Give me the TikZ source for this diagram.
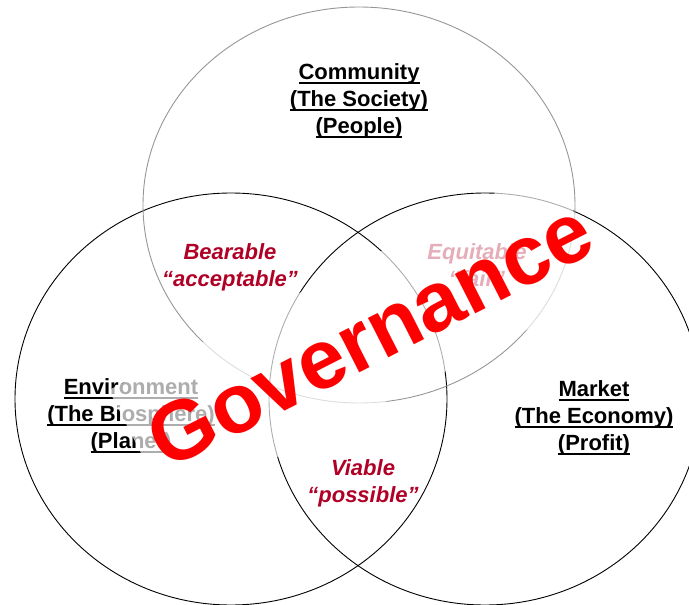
\documentclass[tikz,border=0pt]{standalone}
\usepackage{fontspec}
\setmainfont{Liberation Sans}
\definecolor{darkred}{RGB}{176,0,38}
\definecolor{ringgray}{RGB}{150,150,150}
\newcommand\undl[1]{\setbox0\hbox{#1}\rlap{\rule[-4.5pt]{\wd0}{1.5pt}}\box0}
\begin{document}
\begin{tikzpicture}[x=1pt,y=-1pt,
  ring/.style={line width=0.9pt, draw=black},
  topring/.style={line width=0.9pt, draw=ringgray},
  pillar/.style={font=\fontsize{22}{27}\selectfont\bfseries, align=center, inner sep=0pt},
  overlap/.style={font=\fontsize{22}{27}\selectfont\bfseries\itshape, align=center, inner sep=0pt, text=darkred},
  veil/.style={rectangle, inner sep=0pt, minimum width=495pt, minimum height=136pt, fill=white, fill opacity=0.68, draw=none},
  banner/.style={font=\fontsize{84}{100}\selectfont\bfseries, text=red, inner sep=0pt}]
\useasboundingbox (0,0) rectangle (689,605);
% circles
\draw[ring] (231,399) ellipse [x radius=216pt, y radius=206pt];
\draw[ring] (485,399) ellipse [x radius=216pt, y radius=206pt];
\draw[topring] (359,205) ellipse [x radius=216pt, y radius=198pt];
% pillar labels
\node[pillar] (community) at (359,100.6) {\strut\undl{Community}\\\strut\undl{(The Society)}\\\strut\undl{(People)}};
\node[pillar] (environment) at (131,415.6) {\strut\undl{Environment}\\\strut\undl{(The Biosphere)}\\\strut\undl{(Planet)}};
\node[pillar] (market) at (594,417.6) {\strut\undl{Market}\\\strut\undl{(The Economy)}\\\strut\undl{(Profit)}};
% overlap labels
\node[overlap] (bearable) at (230,267.6) {\strut Bearable\\\strut “acceptable”};
\node[overlap] (equitable) at (477,267.6) {\strut Equitable\\\strut “fair”};
\node[overlap] (viable) at (363,483.6) {\strut Viable\\\strut “possible”};
% governance veil and word
\node[veil, rotate=27] (veil) at (360.3,338.3) {};
\node[banner, rotate=27] (governance) at (370,335) {Governance};
\end{tikzpicture}
\end{document}
